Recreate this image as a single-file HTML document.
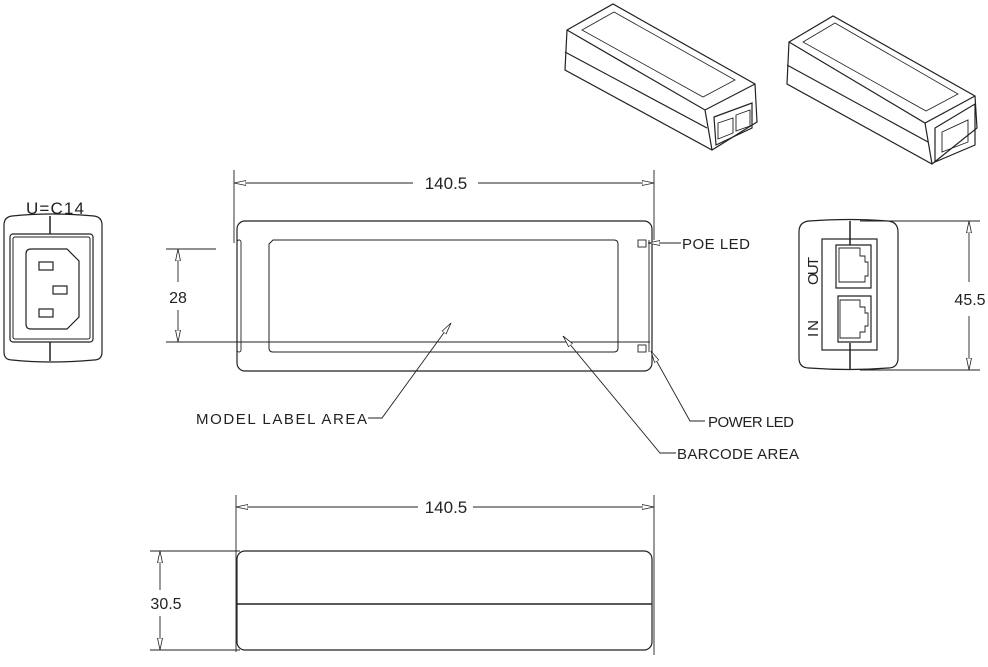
<!DOCTYPE html>
<html><head><meta charset="utf-8"><style>
html,body{margin:0;padding:0;background:#fff;}
svg{display:block;}
text{font-family:"Liberation Sans",sans-serif;fill:#222;}
</style></head><body>
<svg width="988" height="667" viewBox="0 0 988 667" xmlns="http://www.w3.org/2000/svg">
<defs>
<marker id="ar" viewBox="0 0 12 6" refX="12" refY="3" markerWidth="12" markerHeight="6" orient="auto-start-reverse" markerUnits="userSpaceOnUse">
<path d="M0,0.5 L12,3 L0,5.5 Z" fill="#fff" stroke="#222" stroke-width="0.8"/>
</marker>
</defs>
<g fill="none" stroke="#222" stroke-width="1.2">
<!-- 3D left -->
<path d="M567,30 L613,4 L755,84 L757,122 L712,150 L565,70 Z"/>
<path d="M567,30 L705,110 L755,84 M705,110 L712,150 M565,52 L707,128"/>
<path d="M582,30 L614,12 L735,80 L703,97 Z" stroke-width="0.8"/>
<path d="M714,117 L752,103 L752,128 L716,145 Z"/>
<path d="M718,123 L733,118 L733,133 L718,139 Z M736,115 L750,110 L750,126 L736,131 Z" stroke-width="0.9"/>
<!-- 3D right -->
<path d="M789,42 L833,16 L975,96 L977,128 L932,164 L787,84 Z"/>
<path d="M789,42 L925,123 L975,96 M925,123 L932,164 M787,65 L928,142"/>
<path d="M803,42 L835,23 L958,94 L926,111 Z" stroke-width="0.8"/>
<path d="M935,128 L975,104 L975,145 L935,162 Z"/>
<path d="M942,132 L968,120 L968,142 L942,152 Z" stroke-width="0.9"/>
<!-- C14 -->
<text x="55" y="214" font-size="17" text-anchor="middle" stroke="none" textLength="58">U=C14</text>
<path d="M12,216 Q50,212 94,216 Q102,217 102,225 L102,352 Q102,360 94,360 Q50,364 12,360 Q4,360 4,352 L4,225 Q4,217 12,216 Z"/>
<rect x="10" y="234" width="83" height="108" rx="3"/>
<rect x="13" y="237" width="77" height="102" rx="2" stroke-width="1"/>
<path d="M50,216 V234 M50,342 V361" stroke-width="1.5"/>
<path d="M31,249 H67 L79,261 V317 L67,329 H31 Q26,329 26,324 V254 Q26,249 31,249 Z"/>
<rect x="39" y="262" width="14" height="8"/><rect x="53" y="286" width="14" height="8"/><rect x="39" y="309" width="14" height="8"/>
<!-- top view -->
<path d="M234,170 V243 M654,170 V240" stroke-width="0.9"/>
<line x1="234" y1="183" x2="413" y2="183" marker-start="url(#ar)" stroke-width="0.9"/>
<line x1="478" y1="183" x2="654" y2="183" marker-end="url(#ar)" stroke-width="0.9"/>
<text x="446" y="189" font-size="17" text-anchor="middle" stroke="none">140.5</text>
<rect x="237" y="221" width="415" height="150" rx="8"/>
<path d="M273,240 H614 Q618,240 618,244 V348 Q618,352 614,352 H273 Q269,352 269,348 V244 Z" stroke-width="1"/>
<rect x="237" y="240" width="4" height="112" rx="2" stroke-width="0.9"/>
<path d="M649,240 V352" stroke-width="0.9"/>
<rect x="638" y="240" width="8" height="7" stroke-width="0.9"/><rect x="638" y="345" width="8" height="7" stroke-width="0.9"/>
<path d="M166,249 H216 M166,342 H650" stroke-width="0.9"/>
<line x1="178" y1="282" x2="178" y2="249" marker-end="url(#ar)" stroke-width="0.9"/>
<line x1="178" y1="310" x2="178" y2="342" marker-end="url(#ar)" stroke-width="0.9"/>
<text x="178" y="303" font-size="16" text-anchor="middle" stroke="none">28</text>
<line x1="681" y1="243" x2="648" y2="243" marker-end="url(#ar)" stroke-width="0.9"/>
<text x="682" y="249" font-size="15" stroke="none" textLength="68">POE LED</text>
<path d="M705,421 H690 L651,351" stroke-width="0.9" marker-end="url(#ar)"/>
<text x="708" y="427" font-size="15" stroke="none" textLength="86">POWER LED</text>
<path d="M676,453 H660 L563,336" stroke-width="0.9" marker-end="url(#ar)"/>
<text x="677" y="459" font-size="15" stroke="none" textLength="122">BARCODE AREA</text>
<path d="M368,418 H382 L451,323" stroke-width="0.9" marker-end="url(#ar)"/>
<text x="196" y="424" font-size="15" stroke="none" textLength="171">MODEL LABEL AREA</text>
<!-- right view -->
<path d="M809,221 Q850,218 888,221 Q898,222 898,232 V358 Q898,368 888,368 Q850,371 809,368 Q799,368 799,358 V232 Q799,222 809,221 Z"/>
<rect x="822" y="239" width="55" height="111"/>
<path d="M850,221 V245 M850,343 V370" stroke-width="1.5"/>
<path d="M836,245 H871 V288 H836 Z M838,296 H871 V342 H838 Z"/>
<path d="M839,248 H860 V256 H865 V262 H868 V276 H865 V282 H839 Z M840,300 H860 V307 H865 V313 H868 V326 H865 V332 H860 V338 H840 Z" stroke-width="0.9"/>
<text x="0" y="0" font-size="15" stroke="none" transform="translate(818,285) rotate(-90)" textLength="28">OUT</text>
<text x="0" y="0" font-size="15" stroke="none" transform="translate(818,337) rotate(-90)" textLength="17">IN</text>
<path d="M860,221 H980 M860,370 H980" stroke-width="0.9"/>
<line x1="969" y1="282" x2="969" y2="221" marker-end="url(#ar)" stroke-width="0.9"/>
<line x1="969" y1="316" x2="969" y2="370" marker-end="url(#ar)" stroke-width="0.9"/>
<text x="970" y="305" font-size="16" text-anchor="middle" stroke="none">45.5</text>
<!-- bottom view -->
<path d="M236,495 V652 M654,495 V655" stroke-width="0.9"/>
<line x1="236" y1="507" x2="418" y2="507" marker-start="url(#ar)" stroke-width="0.9"/>
<line x1="473" y1="507" x2="654" y2="507" marker-end="url(#ar)" stroke-width="0.9"/>
<text x="446" y="513" font-size="17" text-anchor="middle" stroke="none">140.5</text>
<rect x="237" y="551" width="415" height="99" rx="8"/>
<path d="M237,604 H652" stroke-width="1.6"/>
<path d="M150,551 H240 M150,650 H240" stroke-width="0.9"/>
<line x1="160" y1="590" x2="160" y2="551" marker-end="url(#ar)" stroke-width="0.9"/>
<line x1="160" y1="616" x2="160" y2="650" marker-end="url(#ar)" stroke-width="0.9"/>
<text x="166" y="609" font-size="16" text-anchor="middle" stroke="none">30.5</text>
</g>
</svg>
</body></html>
